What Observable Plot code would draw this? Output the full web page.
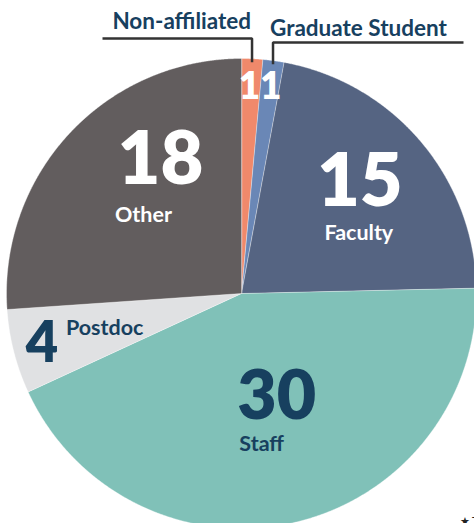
<!DOCTYPE html>
<html><head><meta charset="utf-8">
<script src="https://cdn.jsdelivr.net/npm/d3@7"></script>
<script src="https://cdn.jsdelivr.net/npm/@observablehq/plot@0.6"></script>
<style>html,body{margin:0;padding:0;background:#fff;overflow:hidden;} svg{display:block;}</style>
</head><body><div id="chart"></div>
<script>
// ---- data ----
const categories = ["Non-affiliated", "Graduate Student", "Faculty", "Staff", "Postdoc", "Other"];
const counts = [1, 1, 15, 30, 4, 18];
const sliceColors = ["#f0896b", "#6a87b6", "#556482", "#80c1b8", "#e0e1e3", "#625d5e"];
const captionText = "★ T";

// ---- layout ----
const W = 474, H = 523;
const CX = 241, CY = 293, R = 235;
const NAVY = "#17405f";
const FONT = "Lato, 'Noto Sans', sans-serif";

const pie = d3.pie().sort(null).value(d => d)(counts);
const slices = categories.map((c, i) => ({cat: c, value: counts[i], a0: pie[i].startAngle, a1: pie[i].endAngle, mid: (pie[i].startAngle + pie[i].endAngle) / 2}));
const bySlice = Object.fromEntries(slices.map(s => [s.cat, s]));
const polar = (a, r) => [r * Math.sin(a), -r * Math.cos(a)];

// slice polygons
const slicePts = [];
for (const s of slices) {
  slicePts.push({cat: s.cat, x: 0, y: 0});
  const n = Math.max(2, Math.ceil((s.a1 - s.a0) / 0.004));
  for (let j = 0; j <= n; j++) {
    const a = s.a0 + (s.a1 - s.a0) * j / n;
    const [x, y] = polar(a, R);
    slicePts.push({cat: s.cat, x, y});
  }
}

// number / name label layout (radial anchor fraction + pixel offsets)
const numLayout = {
  "Non-affiliated":   {k: 0.85, dx: -1,  dy: 5,   size: 37, color: "white", anchor: "middle"},
  "Graduate Student": {k: 0.85, dx: 2,   dy: 3,   size: 37, color: "white", anchor: "middle"},
  "Faculty":          {k: 0.6,  dx: 11,  dy: 4,   size: 74, color: "white", anchor: "middle"},
  "Staff":            {k: 0.6,  dx: -36, dy: -12, size: 68, color: NAVY,    anchor: "start"},
  "Postdoc":          {k: 0.6,  dx: -63, dy: 34,  size: 56, color: NAVY,    anchor: "middle"},
  "Other":            {k: 0.6,  dx: 22,  dy: -13, size: 74, color: "white", anchor: "middle"}
};
const nameLayout = {
  "Faculty": {k: 0.6, dx: 10,  dy: 38, color: "white", anchor: "middle"},
  "Staff":   {k: 0.6, dx: -34, dy: 20, color: NAVY,    anchor: "start"},
  "Postdoc": {k: 0.6, dx: -39, dy: 7,  color: NAVY,    anchor: "start"},
  "Other":   {k: 0.6, dx: 5,   dy: 25, color: "white", anchor: "middle"}
};
const outerLayout = {
  "Non-affiliated":   {elbowY: -255, endX: -139, tdx: -1, tdy: -10, anchor: "end"},
  "Graduate Student": {elbowY: -251, endX: 222,  tdx: -3, tdy: -7,  anchor: "start"}
};

const numLabels = slices.map(s => {
  const L = numLayout[s.cat];
  const [x, y] = polar(s.mid, L.k * R);
  return {text: String(s.value), x: x + L.dx, y: y + L.dy, size: L.size, color: L.color, anchor: L.anchor};
});
const nameLabels = Object.keys(nameLayout).map(c => {
  const L = nameLayout[c], s = bySlice[c];
  const [x, y] = polar(s.mid, L.k * R);
  return {text: c, x: x + L.dx, y: y + L.dy, color: L.color, anchor: L.anchor};
});
const leaderPts = [], outerLabels = [];
for (const c of Object.keys(outerLayout)) {
  const L = outerLayout[c], s = bySlice[c];
  const [x0, y0] = polar(s.mid, R * 0.985);
  leaderPts.push({cat: c, x: x0, y: y0}, {cat: c, x: x0, y: L.elbowY}, {cat: c, x: L.endX, y: L.elbowY});
  outerLabels.push({text: c, x: x0 + L.tdx, y: L.elbowY + L.tdy, anchor: L.anchor});
}

const textMarks = [];
for (const color of ["white", NAVY]) {
  for (const anchor of ["middle", "start"]) {
    const nd = numLabels.filter(d => d.color === color && d.anchor === anchor);
    if (nd.length) textMarks.push(Plot.text(nd, {x: "x", y: "y", text: "text", fontSize: "size", fill: color, textAnchor: anchor, lineAnchor: "bottom", fontWeight: 800}));
    const ld = nameLabels.filter(d => d.color === color && d.anchor === anchor);
    if (ld.length) textMarks.push(Plot.text(ld, {x: "x", y: "y", text: "text", fontSize: 21.5, fill: color, textAnchor: anchor, lineAnchor: "bottom", fontWeight: 700}));
  }
}
for (const anchor of ["end", "start"]) {
  const od = outerLabels.filter(d => d.anchor === anchor);
  textMarks.push(Plot.text(od, {x: "x", y: "y", text: "text", fontSize: 22.5, fill: NAVY, textAnchor: anchor, lineAnchor: "bottom", fontWeight: 700}));
}

const chart = Plot.plot({
  width: W, height: H, margin: 0,
  x: {domain: [-CX, W - CX], range: [0, W], axis: null},
  y: {domain: [-CY, H - CY], range: [0, H], axis: null},
  color: {domain: categories, range: sliceColors},
  style: {fontFamily: FONT, background: "white", overflow: "hidden"},
  marks: [
    Plot.line(slicePts, {x: "x", y: "y", z: "cat", fill: "cat", stroke: "white", strokeWidth: 0.6, strokeOpacity: 0.6, curve: "linear-closed", clip: true}),
    Plot.line(leaderPts, {x: "x", y: "y", z: "cat", stroke: "#333333", strokeWidth: 2.5, strokeLinejoin: "miter", strokeLinecap: "butt"}),
    ...textMarks,
    Plot.text([captionText], {frameAnchor: "bottom-right", dx: -15, dy: -6, textAnchor: "start", lineAnchor: "top", fontSize: 11, fill: "#222"})
  ]
});
document.getElementById("chart").appendChild(chart);
</script>
</body></html>
